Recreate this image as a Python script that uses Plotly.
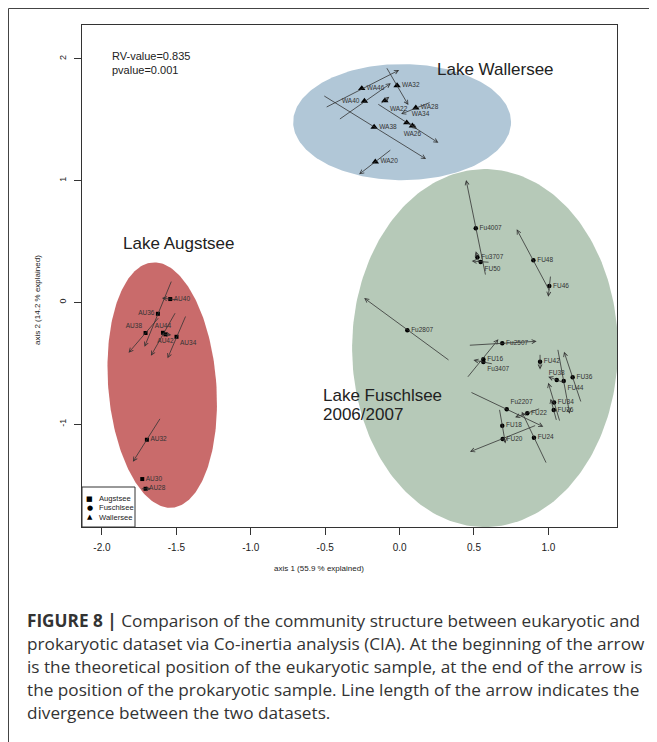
import numpy as np
import plotly.graph_objects as go

# ---------------- data ----------------
# Wallersee samples: marker position, arrow start (eukaryotic), arrow end (prokaryotic)
wa_labels = ["WA46", "WA32", "WA40", "WA22", "WA28", "WA34", "WA26", "WA38", "WA20"]
wa_x = [-0.254, -0.017, -0.236, -0.099, 0.109, 0.048, 0.086, -0.171, -0.163]
wa_y = [1.758, 1.781, 1.654, 1.657, 1.599, 1.476, 1.451, 1.440, 1.155]
wa_x0 = [-0.500, -0.091, -0.411, -0.131, 0.212, -0.153, 0.057, -0.516, -0.052]
wa_y0 = [1.599, 1.936, 1.498, 1.629, 1.646, 1.635, 1.481, 1.703, 1.260]
wa_x1 = [-0.003, 0.059, -0.059, -0.069, 0.010, 0.261, 0.117, 0.178, -0.272]
wa_y1 = [1.909, 1.621, 1.800, 1.689, 1.547, 1.311, 1.424, 1.178, 1.052]

au_labels = ["AU40", "AU36", "AU38", "AU44", "AU42", "AU34", "AU32", "AU30", "AU28"]
au_x = [-1.541, -1.624, -1.707, -1.590, -1.573, -1.499, -1.698, -1.729, -1.707]
au_y = [0.027, -0.094, -0.252, -0.250, -0.263, -0.283, -1.129, -1.452, -1.532]
au_x0 = [-1.486, -1.530, -1.613, -1.503, -1.610, -1.434, -1.604, -1.733, -1.743]
au_y0 = [0.019, 0.183, -0.118, -0.077, -0.258, -0.104, -0.945, -1.452, -1.532]
au_x1 = [-1.597, -1.714, -1.821, -1.671, -1.534, -1.559, -1.792, -1.725, -1.671]
au_y1 = [0.035, -0.365, -0.414, -0.439, -0.268, -0.460, -1.310, -1.452, -1.532]

fu_labels = ["Fu4007", "Fu3707", "FU50", "FU48", "FU46", "Fu2807", "Fu2507", "FU16",
             "Fu3407", "FU42", "FU38", "FU44", "FU36", "FU34", "FU26", "Fu2207",
             "FU22", "FU18", "FU20", "FU24"]
fu_x = [0.512, 0.523, 0.545, 0.899, 1.006, 0.052, 0.690, 0.563, 0.563, 0.944,
        1.056, 1.103, 1.163, 1.038, 1.036, 0.720, 0.858, 0.690, 0.693, 0.903]
fu_y = [0.608, 0.370, 0.331, 0.345, 0.134, -0.230, -0.337, -0.468, -0.491, -0.488,
        -0.638, -0.647, -0.616, -0.822, -0.885, -0.879, -0.912, -1.014, -1.123, -1.113]
fu_x0 = [0.579, 0.534, 0.608, 1.011, 1.015, 0.339, 0.462, 0.451, 0.630, 0.944,
         1.110, 1.062, 1.221, 1.078, 1.056, 0.473, 0.948, 0.670, 0.921, 0.989]
fu_y0 = [0.216, 0.320, 0.329, 0.087, 0.224, -0.482, -0.353, -0.624, -0.507, -0.419,
         -0.662, -0.378, -0.827, -0.984, -0.978, -0.735, -0.871, -0.871, -1.008, -1.329]
fu_x1 = [0.447, 0.512, 0.485, 0.787, 0.999, -0.238, 0.921, 0.664, 0.496, 0.944,
         0.999, 1.143, 1.105, 0.999, 1.015, 0.966, 0.776, 0.711, 0.473, 0.821]
fu_y1 = [1.005, 0.419, 0.339, 0.600, 0.046, 0.035, -0.320, -0.304, -0.474, -0.551,
         -0.611, -0.915, -0.406, -0.661, -0.792, -1.022, -0.945, -1.159, -1.228, -0.899]

# group ellipses
ell_names = ["Wallersee", "Fuschlsee", "Augstsee"]
ell_cx = [0.017, 0.574, -1.595]
ell_cy = [1.481, -0.376, -0.680]
ell_rx = [0.732, 0.893, 0.363]
ell_ry = [0.477, 1.471, 1.011]
ell_ang = [0.0, 0.0, 4.6]

x_tick_vals = [-2.0, -1.5, -1.0, -0.5, 0.0, 0.5, 1.0]
x_tick_text = ["-2.0", "-1.5", "-1.0", "-0.5", "0.0", "0.5", "1.0"]
y_tick_vals = [-1, 0, 1, 2]
y_tick_text = ["-1", "0", "1", "2"]

rv_text = "RV-value=0.835"
p_text = "pvalue=0.001"
x_title = "axis 1 (55.9 % explained)"
y_title = "axis 2 (14.2 % explained)"
caption_lines = [
    "<b>FIGURE 8 |</b> Comparison of the community structure between eukaryotic and",
    "prokaryotic dataset via Co-inertia analysis (CIA). At the beginning of the arrow",
    "is the theoretical position of the eukaryotic sample, at the end of the arrow is",
    "the position of the prokaryotic sample. Line length of the arrow indicates the",
    "divergence between the two datasets.",
]

# ---------------- layout / style ----------------
FONT = "Liberation Sans, Arial, sans-serif"
CAP_FONT = "Open Sans, Liberation Sans, sans-serif"
OFF = 8                      # page body margin
W, H = 657 - OFF, 742 - OFF
BOX_L, BOX_R, BOX_T, BOX_B = 82, 617, 25, 527   # plot box in screenshot pixels
M_L, M_T = BOX_L - OFF, BOX_T - OFF
M_R = W - (BOX_R - OFF)
M_B = H - (BOX_B - OFF)
X_RANGE = [-2.134, 1.461]
Y_RANGE = [-1.846, 2.279]
PW = BOX_R - BOX_L
PH = BOX_B - BOX_T
PXU = PW / (X_RANGE[1] - X_RANGE[0])
PYU = PH / (Y_RANGE[1] - Y_RANGE[0])

ell_colors = ["#b1c7d7", "#b6c9b8", "#c96b6b"]

wa_pos = ["middle right", "middle right", "middle left", "bottom right", "middle right",
          "top right", "bottom center", "middle right", "middle right"]
au_pos = ["middle right", "middle left", "top left", "top center", "bottom center",
          "bottom right", "middle right", "middle right", "middle right"]
fu_pos = ["middle right", "middle right", "bottom right", "middle right", "middle right",
          "middle right", "middle right", "middle right", "bottom right", "middle right",
          "top center", "bottom right", "middle right", "middle right", "middle right",
          "top right", "middle right", "middle right", "middle right", "middle right"]


def px2paper(px, py):
    return (px - BOX_L) / PW, (BOX_B - py) / PH


def ellipse(cx, cy, rx, ry, ang):
    t = np.linspace(0, 2 * np.pi, 240)
    a, b = rx * PXU, ry * PYU
    u, v = a * np.cos(t), b * np.sin(t)
    th = np.radians(ang)
    ur = u * np.cos(th) - v * np.sin(th)
    vr = u * np.sin(th) + v * np.cos(th)
    return cx + ur / PXU, cy + vr / PYU


fig = go.Figure()

for i in range(len(ell_names)):
    ex, ey = ellipse(ell_cx[i], ell_cy[i], ell_rx[i], ell_ry[i], ell_ang[i])
    fig.add_trace(go.Scatter(x=ex, y=ey, mode="lines", fill="toself",
                             fillcolor=ell_colors[i], line=dict(width=0),
                             hoverinfo="skip", showlegend=False))

annotations = []
for xs0, ys0, xs1, ys1 in [(wa_x0, wa_y0, wa_x1, wa_y1),
                           (au_x0, au_y0, au_x1, au_y1),
                           (fu_x0, fu_y0, fu_x1, fu_y1)]:
    for a0, b0, a1, b1 in zip(xs0, ys0, xs1, ys1):
        annotations.append(dict(x=a1, y=b1, ax=a0, ay=b0, xref="x", yref="y",
                                axref="x", ayref="y", text="", showarrow=True,
                                arrowhead=5, arrowsize=1.0, arrowwidth=0.8,
                                arrowcolor="#333333", standoff=0, startstandoff=0))

for xs, ys, labs, pos, sym, size in [
        (au_x, au_y, au_labels, au_pos, "square", 4),
        (fu_x, fu_y, fu_labels, fu_pos, "circle", 4.5),
        (wa_x, wa_y, wa_labels, wa_pos, "triangle-up", 6.5)]:
    fig.add_trace(go.Scatter(x=xs, y=ys, mode="markers+text", text=labs,
                             textposition=pos,
                             textfont=dict(family=FONT, size=6.5, color="#333333"),
                             marker=dict(symbol=sym, size=size, color="black",
                                         line=dict(width=0)),
                             cliponaxis=False, hoverinfo="skip", showlegend=False))

# lake labels
lake_ann = [
    dict(x=0.238, y=1.915, text="Lake Wallersee"),
    dict(x=-1.870, y=0.487, text="Lake Augstsee"),
    dict(x=-0.527, y=-0.762, text="Lake Fuschlsee"),
    dict(x=-0.527, y=-0.918, text="2006/2007"),
]
for a in lake_ann:
    a.update(xref="x", yref="y", showarrow=False, xanchor="left", yanchor="middle",
             font=dict(family=FONT, size=17, color="#222222"))
annotations += lake_ann

annotations += [
    dict(x=-1.944, y=2.024, text=rv_text, xref="x", yref="y", xanchor="left",
         yanchor="middle", showarrow=False, font=dict(family=FONT, size=11, color="#222222")),
    dict(x=-1.944, y=1.909, text=p_text, xref="x", yref="y", xanchor="left",
         yanchor="middle", showarrow=False, font=dict(family=FONT, size=11, color="#222222")),
]

# axis titles
xt = px2paper(319, 568)
yt = px2paper(37, 300)
annotations += [
    dict(x=xt[0], y=xt[1], xref="paper", yref="paper", text=x_title, showarrow=False,
         xanchor="center", yanchor="middle", font=dict(family=FONT, size=8, color="#222222")),
    dict(x=yt[0], y=yt[1], xref="paper", yref="paper", text=y_title, showarrow=False,
         textangle=-90, xanchor="center", yanchor="middle",
         font=dict(family=FONT, size=8, color="#222222")),
]

# legend box content
leg_names = ["Augstsee", "Fuschlsee", "Wallersee"]
leg_syms = ["\u25A0", "\u25CF", "\u25B2"]
leg_py = [498.7, 507.7, 517.3]
for nm, sy, py in zip(leg_names, leg_syms, leg_py):
    sx, syy = px2paper(89.5, py)
    tx, _ = px2paper(96.5, py)
    annotations.append(dict(x=sx, y=syy, xref="paper", yref="paper", text=sy,
                            showarrow=False, xanchor="center", yanchor="middle",
                            font=dict(family="DejaVu Sans", size=7, color="black")))
    annotations.append(dict(x=tx, y=syy, xref="paper", yref="paper", text=nm,
                            showarrow=False, xanchor="left", yanchor="middle",
                            font=dict(family=FONT, size=7.6, color="#222222")))

# caption
for i, line in enumerate(caption_lines):
    cx_, cy_ = px2paper(25, 620 + 23 * i)
    annotations.append(dict(x=cx_, y=cy_, xref="paper", yref="paper", text=line,
                            showarrow=False, xanchor="left", yanchor="middle",
                            font=dict(family=CAP_FONT, size=17.2, color="#333333")))

lx0, ly0 = px2paper(82, 527)
lx1, ly1 = px2paper(135, 487)
fx0, fy0 = px2paper(8.5, 760)
fx1, fy1 = px2paper(651, 8.5)
shapes = [
    dict(type="rect", xref="paper", yref="paper", x0=lx0, y0=ly0, x1=lx1, y1=ly1,
         line=dict(color="#333333", width=1), fillcolor="white", layer="above"),
    dict(type="rect", xref="paper", yref="paper", x0=fx0, y0=fy0, x1=fx1, y1=fy1,
         line=dict(color="#444444", width=1), fillcolor="rgba(0,0,0,0)"),
]

fig.update_layout(
    width=W, height=H, autosize=False,
    margin=dict(l=M_L, r=M_R, t=M_T, b=M_B, pad=0),
    paper_bgcolor="white", plot_bgcolor="white",
    showlegend=False,
    annotations=annotations, shapes=shapes,
    xaxis=dict(range=X_RANGE, showgrid=False, zeroline=False, showline=True,
               mirror=True, linecolor="#333333", linewidth=1, ticks="outside",
               ticklen=7, tickcolor="#333333", tickwidth=1,
               tickvals=x_tick_vals, ticktext=x_tick_text,
               tickfont=dict(family=FONT, size=10, color="#222222"),
               ticklabelstandoff=4),
    yaxis=dict(range=Y_RANGE, showgrid=False, zeroline=False, showline=True,
               mirror=True, linecolor="#333333", linewidth=1, ticks="outside",
               ticklen=7, tickcolor="#333333", tickwidth=1,
               tickvals=y_tick_vals, ticktext=y_tick_text, tickangle=-90,
               tickfont=dict(family=FONT, size=9, color="#222222"),
               ticklabelstandoff=4),
)

fig.write_html("out.html")
